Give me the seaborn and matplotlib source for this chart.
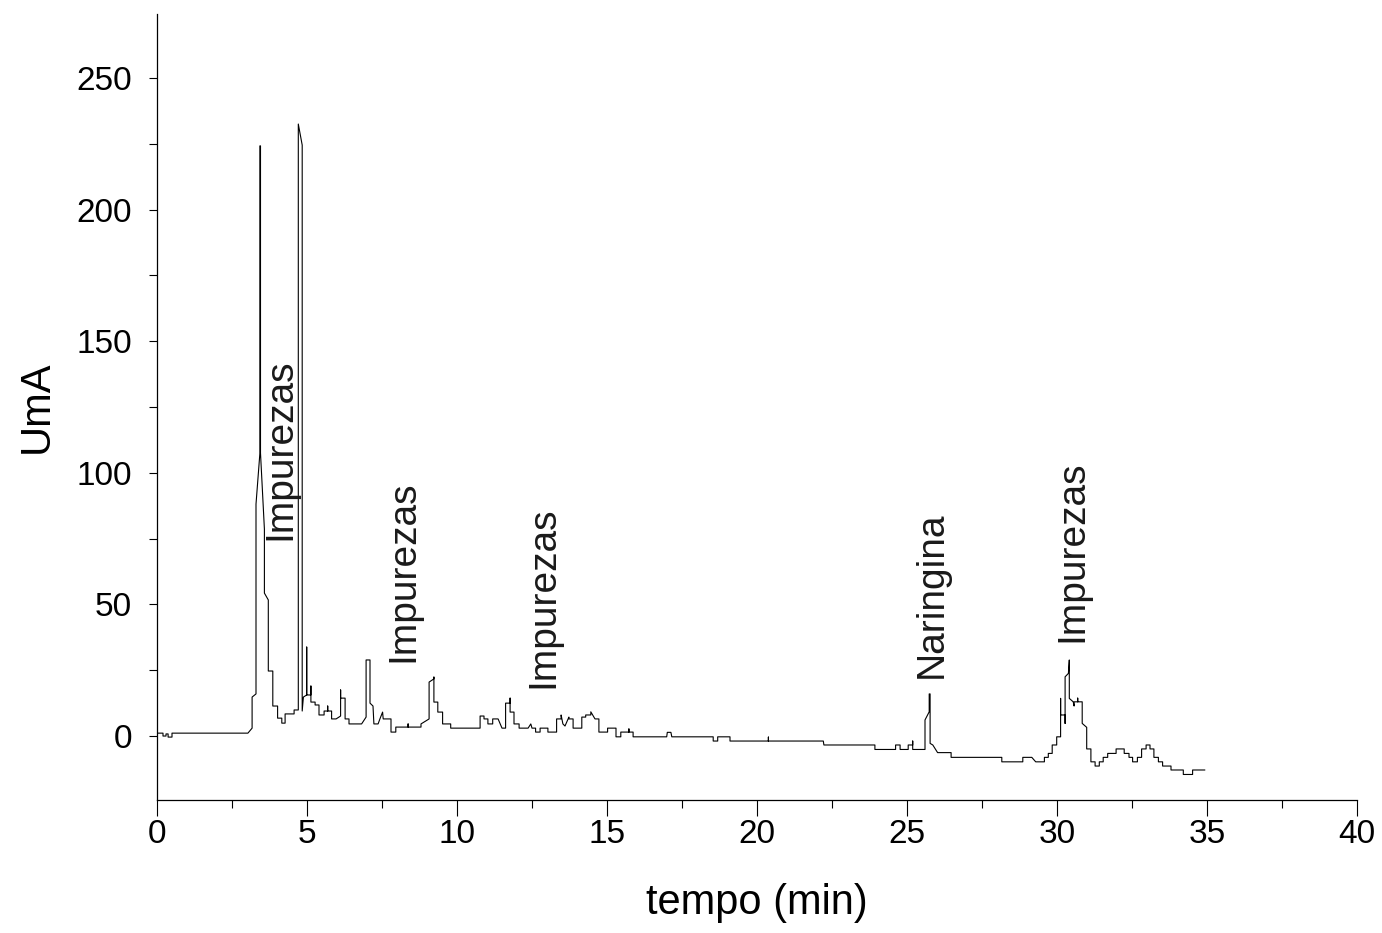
import matplotlib
matplotlib.use("Agg")
import matplotlib.pyplot as plt
import seaborn as sns
from matplotlib.ticker import MultipleLocator

# -----------------------------
# Chromatogram trace (tempo in min, sinal in UmA)
# each line of tempo matches the same line of sinal
# -----------------------------
tempo = [
    0, 0.2, 0.2, 0.3, 0.3, 0.37, 0.37, 0.5, 0.5, 3.03,
    3.17, 3.17, 3.3, 3.3, 3.43, 3.43, 3.45, 3.45, 3.58, 3.58, 3.71, 3.71,
    3.86, 3.86, 4.02, 4.02, 4.16, 4.16, 4.27, 4.27, 4.57, 4.57, 4.71,
    4.71, 4.84, 4.84, 4.88, 4.99, 4.99, 4.99, 5.13, 5.13, 5.13,
    5.27, 5.27, 5.4, 5.4, 5.57, 5.57, 5.69, 5.69, 5.69, 5.82, 5.82, 5.97,
    6.12, 6.12, 6.12, 6.27, 6.27, 6.4, 6.4, 6.82,
    6.97, 6.97, 7.1, 7.1, 7.2, 7.23, 7.37, 7.43, 7.52, 7.54, 7.8, 7.8, 7.96, 7.96,
    8.37, 8.37, 8.37, 8.8, 8.8,
    9.07, 9.07, 9.23, 9.23, 9.23, 9.36, 9.36, 9.52, 9.52, 9.79, 9.79,
    10.77, 10.77, 10.9, 10.9, 11.03, 11.03, 11.19, 11.19, 11.37, 11.5, 11.62, 11.62, 11.77, 11.77, 11.77, 11.9, 11.9, 12.07, 12.07,
    12.37, 12.46, 12.5, 12.62, 12.62, 12.77, 12.77, 13.03, 13.03, 13.32, 13.32,
    13.47, 13.47, 13.53, 13.6, 13.73, 13.73, 13.87, 13.87, 14.16, 14.16, 14.29, 14.29, 14.46, 14.46, 14.6, 14.73, 14.73,
    15.02, 15.02, 15.3, 15.3, 15.46, 15.46, 15.73, 15.73, 15.73, 15.87, 15.87,
    16.99, 17.01, 17.13, 17.16, 18.54, 18.54, 18.69, 18.69, 19.1, 19.1, 20.38, 20.38, 20.38, 22.21, 22.23,
    23.93, 23.93, 24.62, 24.62, 24.77, 24.77, 25.04, 25.04, 25.19, 25.19, 25.19, 25.6,
    25.6, 25.74, 25.74, 25.77, 25.77, 25.86, 26.02, 26.47, 26.47,
    28.16, 28.16, 28.86, 28.86, 29.16, 29.29, 29.58, 29.58, 29.71, 29.71, 29.84, 29.84, 29.99, 29.99,
    30.12, 30.12, 30.12, 30.27, 30.27, 30.27, 30.38, 30.41, 30.41, 30.54, 30.57, 30.57, 30.69, 30.69, 30.69, 30.84, 30.84, 30.99, 30.99,
    31.13, 31.13, 31.27, 31.27, 31.41, 31.41, 31.54, 31.54, 31.69, 31.69, 31.97, 31.97, 32.24, 32.24,
    32.4, 32.4, 32.52, 32.52, 32.68, 32.68, 32.82, 32.82, 32.97, 32.97, 33.1, 33.1, 33.23, 33.23,
    33.38, 33.38, 33.52, 33.52, 33.8, 33.8, 34.21, 34.21, 34.52, 34.52, 34.93,
]
sinal = [
    1.1, 1.1, 0.0, 0.0, 0.8, 0.8, -0.4, -0.4, 1.1, 1.1,
    3.0, 14.8, 16.0, 88.1, 107.5, 224.2, 224.2, 107.5, 78.6, 54.3, 51.7, 24.7,
    24.7, 11.4, 11.4, 6.8, 6.8, 4.9, 4.9, 8.4, 8.4, 9.9, 9.9,
    232.5, 224.5, 9.5, 14.8, 15.6, 33.8, 15.6, 15.6, 19.0, 12.9,
    12.9, 11.8, 11.8, 8.0, 8.0, 9.5, 9.5, 11.4, 9.5, 9.5, 6.5, 6.5,
    7.6, 17.5, 14.4, 14.4, 6.5, 6.5, 4.6, 4.6,
    7.2, 28.9, 28.9, 12.5, 11.4, 4.6, 4.6, 6.5, 9.1, 6.5, 6.5, 1.5, 1.5, 3.4,
    3.4, 4.6, 3.4, 3.4, 4.6,
    6.5, 20.5, 21.7, 22.4, 12.9, 12.9, 9.1, 9.1, 4.6, 4.6, 3.0,
    3.0, 7.6, 7.6, 6.5, 6.5, 4.6, 4.6, 6.5, 6.5, 3.0, 3.0, 12.5, 12.5, 14.4, 9.1, 9.1, 4.6, 4.6, 3.0,
    3.0, 4.6, 3.0, 3.0, 1.5, 1.5, 3.0, 3.0, 1.5, 1.5, 6.5,
    6.5, 8.0, 4.6, 3.8, 7.2, 6.5, 6.5, 3.0, 3.0, 7.2, 7.2, 8.0, 8.0, 9.2, 6.5, 6.5, 1.5,
    1.5, 3.0, 3.0, -0.3, -0.3, 1.5, 1.5, 2.7, 1.5, 1.5, -0.3,
    -0.3, 1.4, 1.4, -0.3, -0.3, -1.9, -1.9, -0.3, -0.3, -1.9, -1.9, -0.4, -1.9, -1.9, -3.4,
    -3.4, -5.1, -5.1, -3.4, -3.4, -5.1, -5.1, -3.4, -3.4, -1.9, -5.1, -5.1,
    6.1, 9.2, 16.0, 16.0, -2.8, -3.4, -6.3, -6.3, -8.1,
    -8.1, -9.8, -9.8, -8.1, -8.1, -9.8, -9.8, -8.1, -8.1, -6.6, -6.6, -3.4, -3.4, -0.3,
    -0.3, 14.3, 8.0, 8.0, 4.8, 22.5, 23.8, 28.9, 14.3, 13.0, 11.4, 13.0, 13.0, 14.4, 13.0, 13.0, 4.8, 3.3, -4.9,
    -4.9, -9.8, -9.8, -11.4, -11.4, -9.8, -9.8, -8.1, -8.1, -6.6, -6.6, -4.9, -4.9, -6.6,
    -6.6, -8.1, -8.1, -9.8, -9.8, -8.1, -8.1, -4.9, -4.9, -3.4, -3.4, -4.9, -4.9, -8.1,
    -8.1, -9.8, -9.8, -11.4, -11.4, -12.9, -12.9, -14.6, -14.6, -12.9, -12.9,
]

# peak labels
rotulos = ["Impurezas", "Impurezas", "Impurezas", "Naringina", "Impurezas"]
rotulo_t = [4.1, 8.2, 12.87, 25.83, 30.5]
rotulo_v = [74.5, 28.0, 18.2, 22.0, 35.7]

sns.set_style("ticks")
plt.rcParams['font.family'] = ['Liberation Sans', 'DejaVu Sans']
plt.rcParams['text.color'] = 'black'
plt.rcParams['axes.labelcolor'] = 'black'
plt.rcParams['xtick.color'] = 'black'
plt.rcParams['ytick.color'] = 'black'

fig = plt.figure(figsize=(13.82, 9.33), dpi=100)
ax = fig.add_axes([157 / 1382, 133 / 933, 1200 / 1382, 786 / 933])

sns.lineplot(x=tempo, y=sinal, sort=False, estimator=None, color='black',
             linewidth=0.8, ax=ax)

for txt, t, v in zip(rotulos, rotulo_t, rotulo_v):
    ax.text(t, v, txt, rotation=90, ha='center', va='bottom', fontsize=28,
            color='#1a1a1a')

ax.set_xlim(0, 40)
ax.set_ylim(-24.3, 274.3)
ax.xaxis.set_major_locator(MultipleLocator(5))
ax.xaxis.set_minor_locator(MultipleLocator(2.5))
ax.yaxis.set_major_locator(MultipleLocator(50))
ax.yaxis.set_minor_locator(MultipleLocator(25))
ax.tick_params(axis='x', which='major', length=11.5, width=0.8, labelsize=24, pad=2)
ax.tick_params(axis='x', which='minor', length=5.8, width=0.8)
ax.tick_params(axis='y', which='both', length=5.8, width=0.8, labelsize=24, pad=12)
for side in ['left', 'bottom']:
    ax.spines[side].set_color('black')
    ax.spines[side].set_linewidth(0.9)
sns.despine(ax=ax)

ax.set_xlabel("tempo (min)", fontsize=30, labelpad=24)
ax.set_ylabel("UmA", fontsize=30, labelpad=14)

fig.savefig("out.png", dpi=100)
